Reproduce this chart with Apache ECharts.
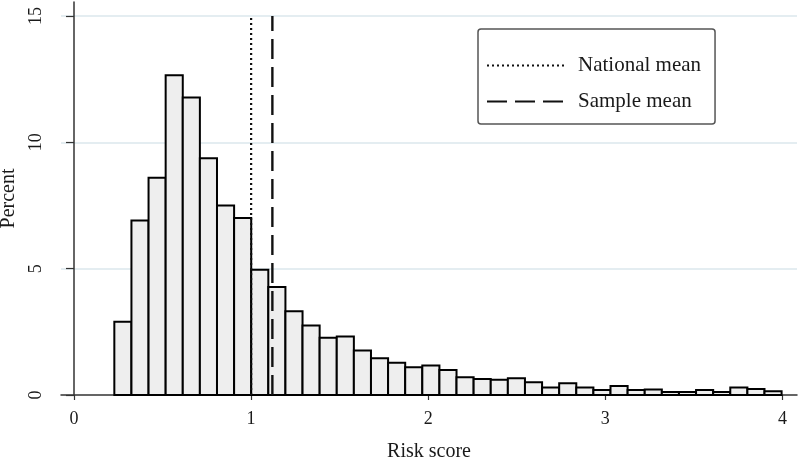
<!DOCTYPE html>
<html>
<head>
<meta charset="utf-8">
<script src="https://cdn.jsdelivr.net/npm/echarts@6/dist/echarts.min.js"></script>
<style>
html,body{margin:0;padding:0;background:#fff;}
#chart{width:800px;height:459px;}
</style>
</head>
<body>
<div id="chart"></div>
<script>
// Histogram data (percent per bin)
var binStart = 0.2277;
var binWidth = 0.0966;
var percentValues = [2.9, 6.9, 8.6, 12.65, 11.77, 9.37, 7.5, 7.0, 4.96, 4.27,
  3.31, 2.75, 2.27, 2.31, 1.76, 1.45, 1.28, 1.10, 1.17, 0.99,
  0.70, 0.63, 0.60, 0.66, 0.50, 0.30, 0.46, 0.30, 0.20, 0.36,
  0.20, 0.22, 0.12, 0.12, 0.20, 0.12, 0.30, 0.24, 0.15];
var nationalMean = 1.0;
var sampleMean = 1.12;
var xTicks = [0, 1, 2, 3, 4];
var yTicks = [0, 5, 10, 15];
var meanLineTop = 15;

var histData = percentValues.map(function (v, i) {
  return [binStart + i * binWidth, binStart + (i + 1) * binWidth, v];
});

var FONT = 'Liberation Serif';

var chart = echarts.init(document.getElementById('chart'));
chart.setOption({
  animation: false,
  backgroundColor: '#ffffff',
  grid: { left: 61, right: 3, top: 2, bottom: 64, containLabel: false, outerBoundsMode: 'none' },
  legend: {
    orient: 'vertical',
    left: 478,
    top: 29,
    padding: [26, 14, 12, 8],
    itemWidth: 77,
    itemHeight: 14,
    itemGap: 15,
    borderColor: '#555',
    borderWidth: 1.5,
    borderRadius: 3,
    itemStyle: { opacity: 0 },
    textStyle: { fontFamily: FONT, fontSize: 21, color: '#1a1a1a', padding: [0, 0, 0, 9] },
    data: ['National mean', 'Sample mean']
  },
  xAxis: {
    type: 'value',
    min: -0.0734,
    max: 4.082,
    name: 'Risk score',
    nameLocation: 'middle',
    nameGap: 47,
    nameTextStyle: { fontFamily: FONT, fontSize: 20, color: '#1a1a1a' },
    axisLine: { show: true, onZero: false, lineStyle: { color: '#333', width: 1.5 } },
    axisTick: { show: true, length: 5, customValues: xTicks, lineStyle: { color: '#333', width: 1.2 } },
    axisLabel: {
      customValues: xTicks, margin: 15,
      fontFamily: FONT, fontSize: 18, color: '#1a1a1a'
    },
    splitLine: { show: false }
  },
  yAxis: {
    type: 'value',
    min: 0,
    max: 15.55,
    interval: 5,
    name: 'Percent',
    nameLocation: 'middle',
    nameGap: 41,
    nameRotate: 90,
    nameTextStyle: { fontFamily: FONT, fontSize: 20, color: '#1a1a1a' },
    axisLine: { show: true, lineStyle: { color: '#333', width: 1.5 } },
    axisTick: { show: true, length: 8, customValues: yTicks, lineStyle: { color: '#333', width: 1.2 } },
    axisLabel: {
      customValues: yTicks, rotate: 90, margin: 16,
      fontFamily: FONT, fontSize: 18, color: '#1a1a1a'
    },
    splitLine: { show: true, showMinLine: false, showMaxLine: true, lineStyle: { color: '#e4edf1', width: 2 } }
  },
  series: [
    {
      type: 'custom',
      name: 'hist',
      data: histData,
      encode: { x: [0, 1], y: 2 },
      renderItem: function (params, api) {
        var p0 = api.coord([api.value(0), api.value(2)]);
        var p1 = api.coord([api.value(1), 0]);
        return {
          type: 'rect',
          shape: { x: p0[0], y: p0[1], width: p1[0] - p0[0], height: p1[1] - p0[1] },
          style: { fill: '#eeeeee', stroke: '#000000', lineWidth: 2 }
        };
      },
      z: 2
    },
    {
      type: 'line',
      name: 'National mean',
      data: [[nationalMean, 0], [nationalMean, meanLineTop]],
      symbol: 'none',
      showSymbol: false,
      lineStyle: { color: '#111', width: 2.2, type: [2, 3] },
      itemStyle: { color: '#111' },
      z: 3
    },
    {
      type: 'line',
      name: 'Sample mean',
      data: [[sampleMean, 0], [sampleMean, meanLineTop]],
      symbol: 'none',
      showSymbol: false,
      lineStyle: { color: '#111', width: 2.4, type: [20, 8] },
      itemStyle: { color: '#111' },
      z: 3
    }
  ]
});
</script>
</body>
</html>
